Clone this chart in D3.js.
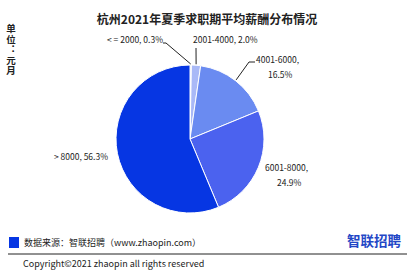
<!DOCTYPE html>
<html>
<head>
<meta charset="utf-8">
<script src="https://cdn.jsdelivr.net/npm/d3@7"></script>
<style>
  body { margin: 0; background: #fff; }
  text { font-family: "Noto Sans CJK SC", "Open Sans", sans-serif; fill: #222; }
</style>
</head>
<body>
<div id="main"></div>
<script>
// Data
const categories = ["<=2000", "2001-4000", "4001-6000", "6001-8000", ">8000"];
const shares = [0.3, 2.0, 16.5, 24.9, 56.3];
const colors = ["#c9d3fb", "#a9b9f7", "#6a8bf1", "#4b62ef", "#0636e3"];

// Label layout: text position, anchor, two lines or not, leader bend point
const labelLayout = [
  { x: 163, y: 43, anchor: "end", wrap: false, lx: 166, ly: 43 },
  { x: 193, y: 43, anchor: "start", wrap: false, lx: 196, ly: 48 },
  { x: 256, y: 63, anchor: "start", wrap: true, lx: 249, ly: 62 },
  { x: 265, y: 171, anchor: "start", wrap: true },
  { x: 108, y: 160, anchor: "end", wrap: false },
];

const width = 414;
const height = 274;
const cx = 190;
const cy = 139;
const radius = 74;

const svg = d3
  .select("#main")
  .append("svg")
  .attr("width", width)
  .attr("height", height);

// Title
svg
  .append("text")
  .attr("x", 207)
  .attr("y", 24)
  .attr("text-anchor", "middle")
  .attr("font-size", 12)
  .attr("font-weight", "bold")
  .text("杭州2021年夏季求职期平均薪酬分布情况");

// Unit label, vertical
svg
  .append("text")
  .attr("x", 11)
  .attr("y", 24)
  .attr("font-size", 9.5)
  .attr("font-weight", "bold")
  .style("writing-mode", "vertical-rl")
  .style("text-orientation", "upright")
  .style("letter-spacing", "1px")
  .text("单位：元月");

// Pie
const pie = d3.pie().sort(null).value((d) => d.value);
const arc = d3.arc().innerRadius(0).outerRadius(radius);
const arcs = pie(categories.map((c, i) => ({ name: c, value: shares[i], i })));

const g = svg.append("g").attr("transform", `translate(${cx},${cy})`);

g.selectAll("path")
  .data(arcs)
  .join("path")
  .attr("d", arc)
  .attr("fill", (d) => colors[d.data.i])
  .attr("stroke", "#fff")
  .attr("stroke-width", 1);

// Leader lines for the top labels
arcs.forEach((d) => {
  const lay = labelLayout[d.data.i];
  if (lay.lx === undefined) return;
  const a = (d.startAngle + d.endAngle) / 2;
  const px = cx + Math.sin(a) * (radius + 1);
  const py = cy - Math.cos(a) * (radius + 1);
  const pts = [[px, py], [lay.lx, lay.ly]];
  if (lay.anchor === "end") pts.push([lay.lx - 3, lay.ly]);
  if (d.data.i === 2) pts.push([lay.lx + 6, lay.ly]);
  svg
    .append("path")
    .attr("d", d3.line()(pts))
    .attr("fill", "none")
    .attr("stroke", "#222")
    .attr("stroke-width", 1);
});

// Data labels
arcs.forEach((d) => {
  const lay = labelLayout[d.data.i];
  const name = d.data.name.replace("<=", "< = ").replace(">", "> ");
  const pct = d.data.value.toFixed(1) + "%";
  const t = svg
    .append("text")
    .attr("x", lay.x)
    .attr("y", lay.y)
    .attr("text-anchor", lay.anchor)
    .attr("font-size", 8.5);
  if (lay.wrap) {
    t.append("tspan").attr("x", lay.x).text(name + ",");
    t.append("tspan")
      .attr("x", lay.x + 12)
      .attr("dy", 14.5)
      .text(pct);
  } else {
    t.text(name + ",  " + pct);
  }
});

// Footer
svg
  .append("rect")
  .attr("x", 9)
  .attr("y", 237)
  .attr("width", 10)
  .attr("height", 11)
  .attr("fill", "#0636e3");

svg
  .append("text")
  .attr("x", 24)
  .attr("y", 246)
  .attr("font-size", 9)
  .text("数据来源：智联招聘（www.zhaopin.com）");

svg
  .append("text")
  .attr("x", 401)
  .attr("y", 246)
  .attr("text-anchor", "end")
  .attr("font-size", 13.5)
  .attr("font-weight", "bold")
  .style("fill", "#2347c6")
  .text("智联招聘");

svg
  .append("line")
  .attr("x1", 8)
  .attr("x2", 407)
  .attr("y1", 254)
  .attr("y2", 254)
  .attr("stroke", "#222")
  .attr("stroke-width", 1);

svg
  .append("text")
  .attr("x", 23)
  .attr("y", 267)
  .attr("font-size", 9)
  .text("Copyright©2021 zhaopin all rights reserved");
</script>
</body>
</html>
